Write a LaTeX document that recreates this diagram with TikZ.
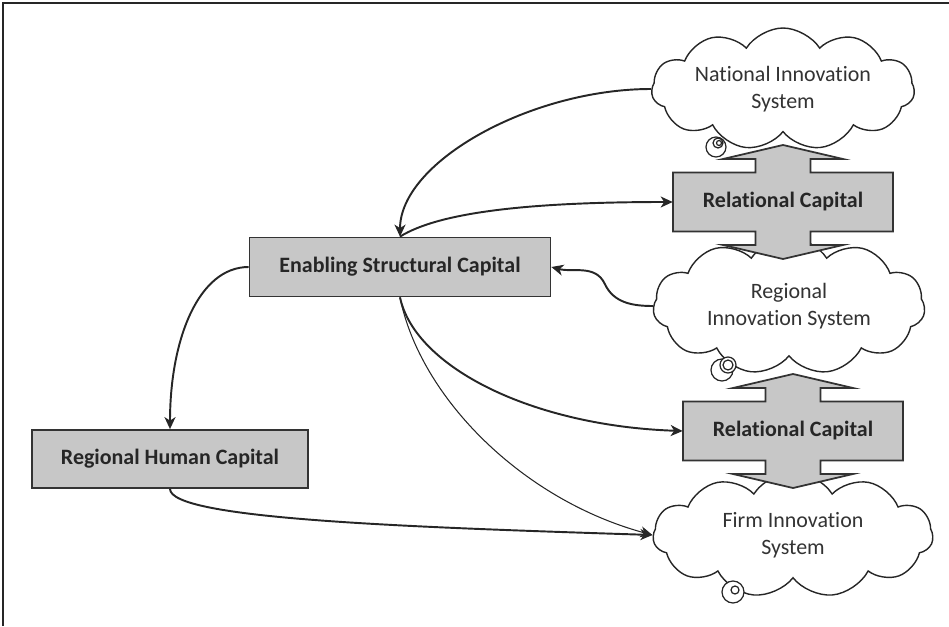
\documentclass[tikz,border=0pt]{standalone}
\usepackage{fontspec}
\setmainfont{Carlito}[Ligatures=NoCommon]
\usetikzlibrary{shapes.symbols,arrows.meta,positioning}

\tikzset{
  frameline/.style={line width=1.7pt, draw=black!85},
  capbox/.style={rectangle, draw=black!80, line width=1pt, fill=black!22, text=black!85,
    font=\bfseries\fontsize{12.5}{14}\selectfont, inner sep=0pt},
  captext/.style={rectangle, text=black!85, font=\bfseries\fontsize{12.5}{14}\selectfont,
    minimum width=4.4cm, minimum height=1.18cm, inner sep=0pt},
  innov/.style={cloud, cloud puffs=11, cloud puff arc=115, cloud ignores aspect,
    draw=black!85, line width=0.8pt, fill=white, align=center, text=black!80,
    font=\fontsize{12.5}{15.4}\selectfont, inner sep=0pt},
  bubble/.style={draw=black!85, line width=0.7pt, fill=white},
  crossfill/.style={draw=black!80, line width=1pt, fill=black!22},
  flow/.style={-{Stealth[length=2.4mm,width=2.2mm,inset=0.7mm]}, line width=1.1pt, draw=black!85},
  thinflow/.style={flow, line width=0.6pt},
}

% double arrow through a relational capital box
\newcommand{\relcross}[1]{%
  \draw[crossfill, shift={(#1)}] (0,57) -- (60,43) -- (27.5,43) -- (27.5,29.5)
    -- (110,29.5) -- (110,-29.5) -- (27.5,-29.5) -- (27.5,-43) -- (60,-43) -- (0,-57)
    -- (-60,-43) -- (-27.5,-43) -- (-27.5,-29.5) -- (-110,-29.5) -- (-110,29.5)
    -- (-27.5,29.5) -- (-27.5,43) -- (-60,43) -- cycle;}

\begin{document}
\begin{tikzpicture}[x=0.02cm, y=0.02cm]
  \useasboundingbox (0,0) rectangle (949,626);

  % frame
  \draw[frameline] (3,0) -- (3,623) -- (949,623);

  % innovation systems
  \node[innov, minimum width=5.26cm, minimum height=2.44cm] (nis) at (783,537) {National Innovation\\System}; %
  \node[innov, minimum width=5.44cm, minimum height=2.74cm] (ris) at (789,320) {Regional\\Innovation System}; %
  \node[innov, minimum width=5.6cm, minimum height=2.5cm]   (fis) at (793,91)  {Firm Innovation\\System}; %

  % bubbles
  \draw[bubble] (716,479) circle (0.2cm); %
  \draw[bubble] (718,483) circle (0.1cm); %
  \draw[bubble] (719,483) circle (0.05cm); %
  \draw[bubble] (722,256) circle (0.22cm); %
  \draw[bubble] (728,261) circle (0.16cm); %
  \draw[bubble] (728,261) circle (0.1cm); %
  \draw[bubble] (733,34) circle (0.22cm); %
  \draw[bubble] (735,36) circle (0.08cm); %

  % relational capital
  \coordinate (c1) at (783,424); %
  \coordinate (c2) at (793,195); %
  \relcross{c1} %
  \relcross{c2} %
  \node[captext] (rc1) at (c1) {Relational Capital}; %
  \node[captext] (rc2) at (c2) {Relational Capital}; %

  % capitals
  \node[capbox, minimum width=6.02cm, minimum height=1.18cm] (esc) at (400,359) {Enabling Structural Capital}; %
  \node[capbox, minimum width=5.52cm, minimum height=1.16cm] (rhc) at (170,167) {Regional Human Capital}; %

  % links
  \draw[flow] (nis.west) .. controls +(-120,0) and +(0,75) .. (esc.north); %
  \draw[flow] (esc.north) .. controls +(40,25) and +(-140,0) .. (rc1.west); %
  \draw[flow] (ris.west) to[out=180,in=-65] ++(-48,22) to[out=115,in=-15] (esc.east); %
  \draw[flow] (esc.west) .. controls +(-50,0) and +(0,90) .. (rhc.north); %
  \draw[flow] (esc.south) .. controls +(15,-70) and +(-150,5) .. (rc2.west); %
  \draw[thinflow] (esc.south) .. controls +(20,-100) and +(-130,35) .. (fis.west); %
  \draw[flow] (rhc.south) .. controls +(0,-30) and +(-250,8) .. (fis.west); %

\end{tikzpicture}
\end{document}
